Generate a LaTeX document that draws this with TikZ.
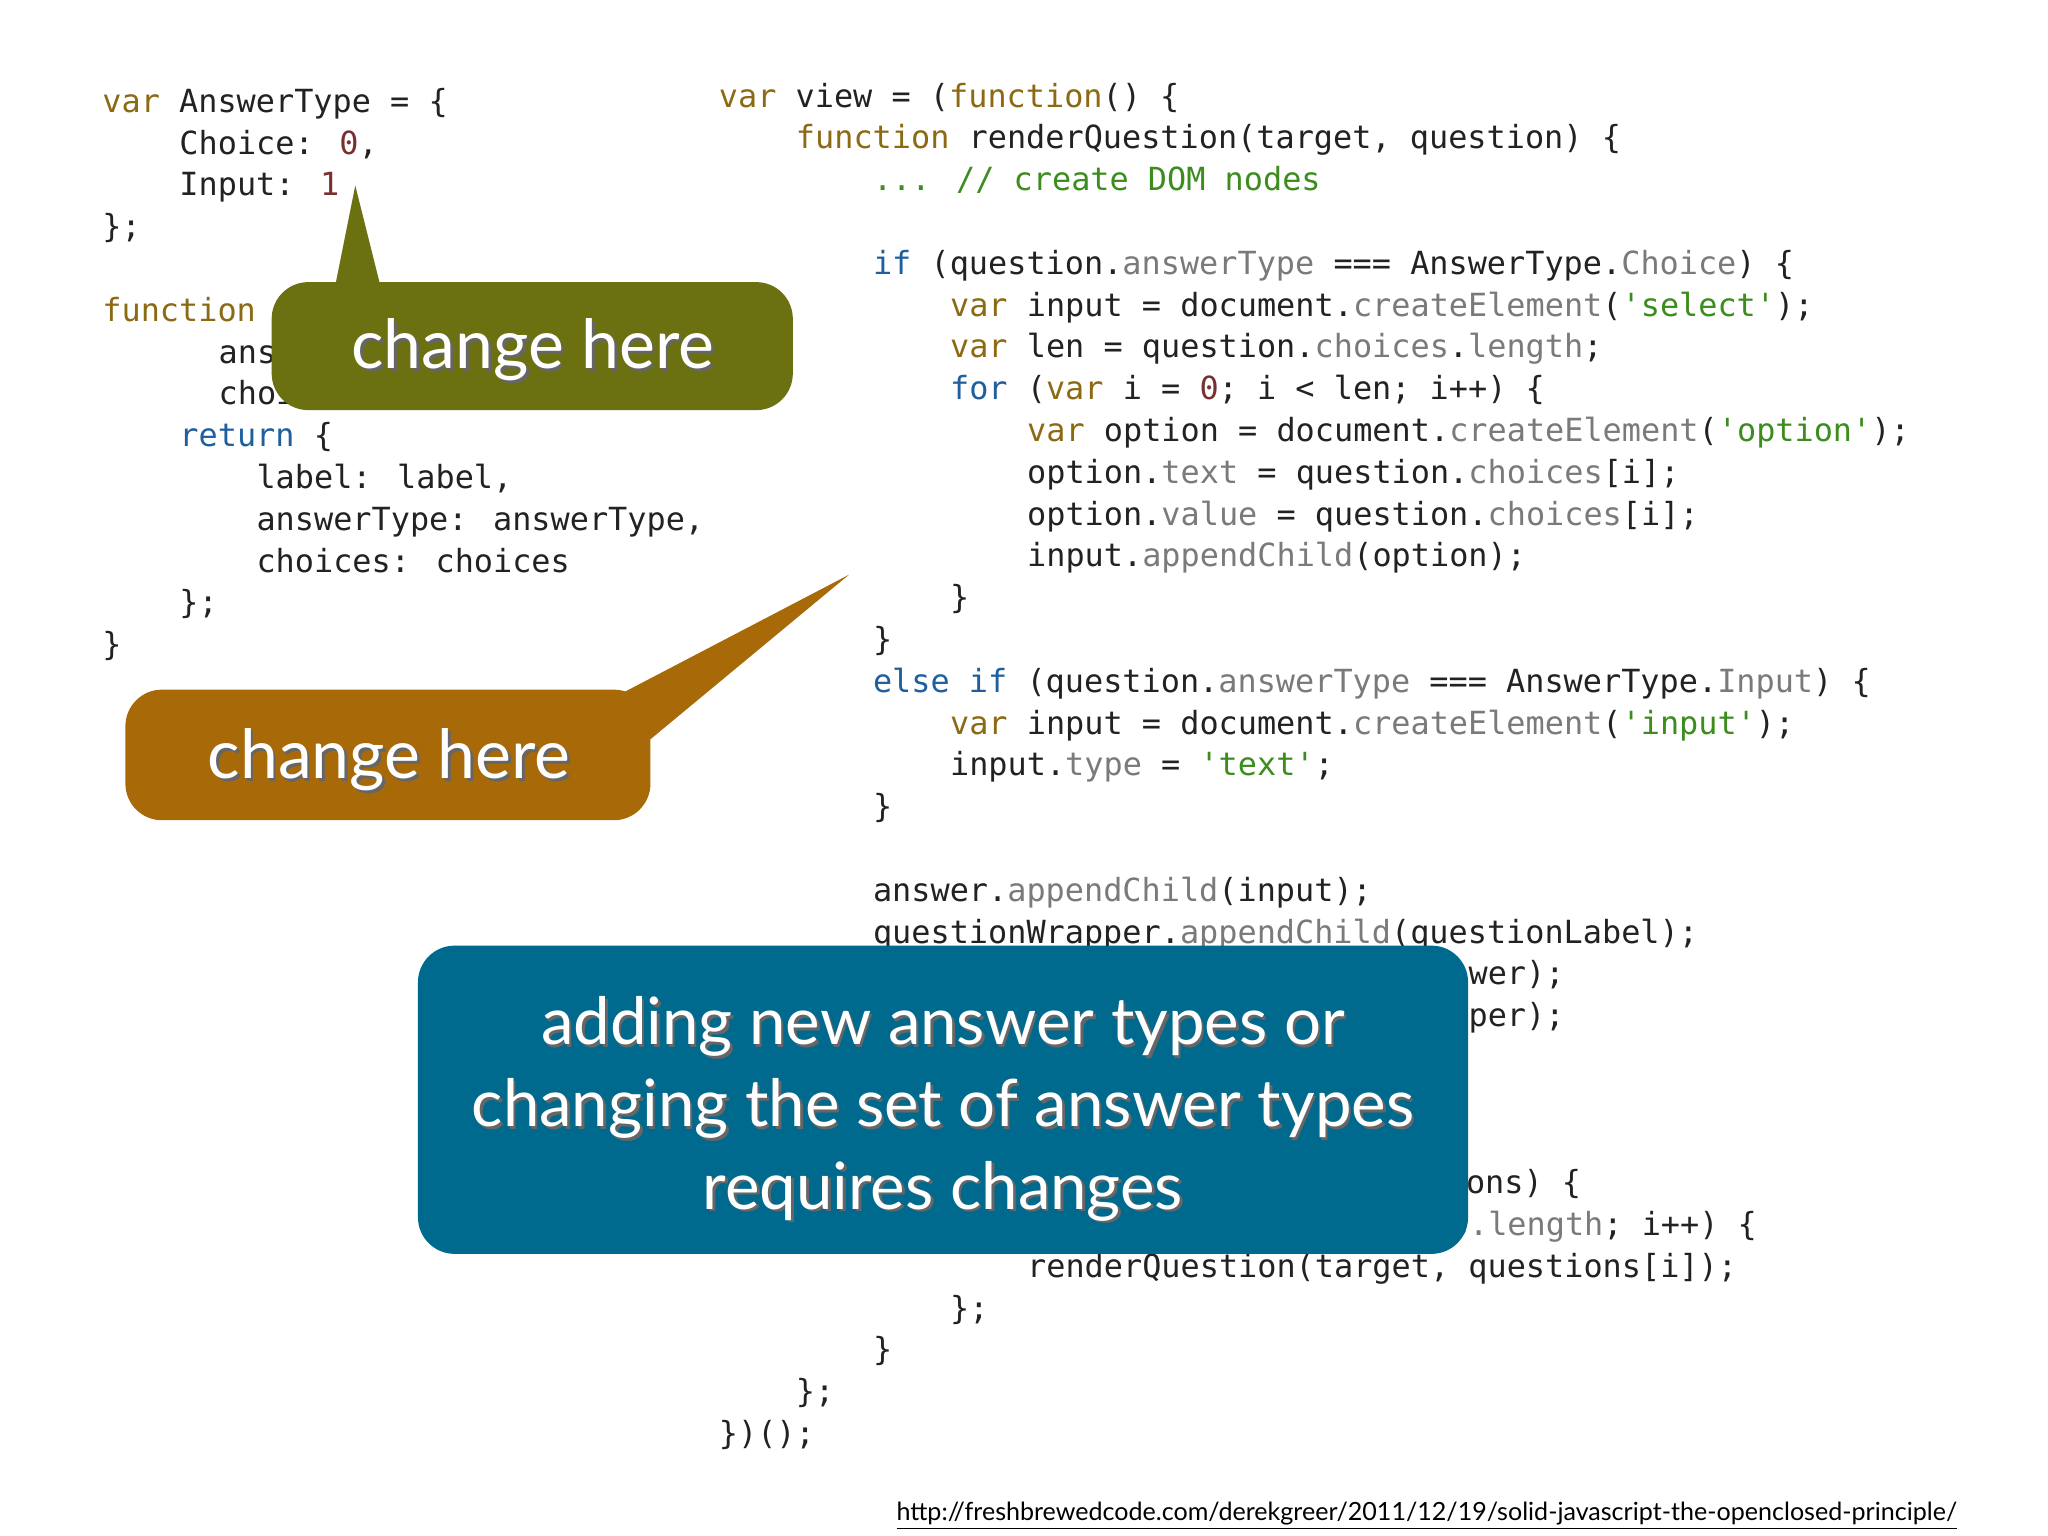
\documentclass[tikz,border=0pt]{standalone}
\usepackage{fontspec}
\usepackage{xcolor}
\newfontfamily\cmono{DejaVu Sans Mono}
\newfontfamily\gsans{Lato}
\definecolor{kwc}{HTML}{8C6A14}
\definecolor{bkc}{HTML}{1F5F9E}
\definecolor{prc}{HTML}{7A7A7A}
\definecolor{stc}{HTML}{3C8C1E}
\definecolor{nmc}{HTML}{7A3030}
\definecolor{txc}{HTML}{222222}
\definecolor{olivec}{HTML}{6B7010}
\definecolor{orangec}{HTML}{A86A08}
\definecolor{bluec}{HTML}{006A8E}
\newcommand{\kw}[1]{\textcolor{kwc}{#1}}
\newcommand{\bk}[1]{\textcolor{bkc}{#1}}
\newcommand{\pr}[1]{\textcolor{prc}{#1}}
\newcommand{\st}[1]{\textcolor{stc}{#1}}
\newcommand{\nm}[1]{\textcolor{nmc}{#1}}
\tikzset{
 code/.style={anchor=base west,inner sep=0,font=\cmono\fontsize{12.2}{16}\selectfont,text=txc},
 callout/.style={rounded corners=14pt},
 ctext/.style={font=\gsans\fontsize{26}{30}\selectfont,text=white,align=center},
 cshadow/.style={font=\gsans\fontsize{26}{30}\selectfont,text=black!60,align=center},
}
\begin{document}
\begin{tikzpicture}[x=0.5pt,y=-0.5pt]
\useasboundingbox (0,0) rectangle (1568,1176);
% left code
\node[code] (a1) at (78,86) {\kw{var} AnswerType = \{};
\node[code] (a2) at (137,118) {Choice: \nm{0},};
\node[code] (a3) at (137,150) {Input: \nm{1}};
\node[code] (a4) at (78,182) {\};};
\node[code] (a5) at (78,246) {\kw{function}};
\node[code] (a6) at (167,278) {ans};
\node[code] (a7) at (167,310) {choices) \{};
\node[code] (a8) at (137,342) {\bk{return} \{};
\node[code] (a9) at (196,374) {label: label,};
\node[code] (a10) at (196,406) {answerType: answerType,};
\node[code] (a11) at (196,438) {choices: choices};
\node[code] (a12) at (137,470) {\};};
\node[code] (a13) at (78,502) {\}};
% right code
\node[code] (b1) at (550,82) {\kw{var} view = (\kw{function}() \{};
\node[code] (b2) at (609,114) {\kw{function} renderQuestion(target, question) \{};
\node[code] (b3) at (668,146) {\st{... // create DOM nodes}};
\node[code] (b4) at (668,210) {\bk{if} (question.\pr{answerType} === AnswerType.\pr{Choice}) \{};
\node[code] (b5) at (727,242) {\kw{var} input = document.\pr{createElement}(\st{'select'});};
\node[code] (b6) at (727,274) {\kw{var} len = question.\pr{choices}.\pr{length};};
\node[code] (b7) at (727,306) {\bk{for} (\kw{var} i = \nm{0}; i < len; i++) \{};
\node[code] (b8) at (786,338) {\kw{var} option = document.\pr{createElement}(\st{'option'});};
\node[code] (b9) at (786,370) {option.\pr{text} = question.\pr{choices}[i];};
\node[code] (b10) at (786,402) {option.\pr{value} = question.\pr{choices}[i];};
\node[code] (b11) at (786,434) {input.\pr{appendChild}(option);};
\node[code] (b12) at (727,466) {\}};
\node[code] (b13) at (668,498) {\}};
\node[code] (b14) at (668,530) {\bk{else if} (question.\pr{answerType} === AnswerType.\pr{Input}) \{};
\node[code] (b15) at (727,562) {\kw{var} input = document.\pr{createElement}(\st{'input'});};
\node[code] (b16) at (727,594) {input.\pr{type} = \st{'text'};};
\node[code] (b17) at (668,626) {\}};
\node[code] (b18) at (668,690) {answer.\pr{appendChild}(input);};
\node[code] (b19) at (668,722) {questionWrapper.\pr{appendChild}(questionLabel);};
\node[code] (b20) at (1124,754) {wer);};
\node[code] (b21) at (1124,786) {per);};
\node[code] (b24) at (1122,914) {ons) \{};
\node[code] (b25) at (1095,946) {\pr{ns.length}; i++) \{};
\node[code] (b26) at (786,978) {renderQuestion(target, questions[i]);};
\node[code] (b27) at (727,1010) {\};};
\node[code] (b28) at (668,1042) {\}};
\node[code] (b29) at (609,1074) {\};};
\node[code] (b30) at (550,1106) {\})();};
% olive callout
\fill[olivec,callout] (208,216) rectangle (607,314);
\fill[olivec] (256,222) -- (272,142) -- (292,222) -- cycle;
\node[cshadow] (c1s) at (410,270) {change here};
\node[ctext] (c1) at (408,268) {change here};
% orange callout
\fill[orangec,callout] (96,528) rectangle (498,628);
\fill[orangec] (470,534) -- (650,440) -- (498,566) -- cycle;
\node[cshadow] (c2s) at (300,584) {change here};
\node[ctext] (c2) at (298,582) {change here};
% blue callout
\fill[bluec,callout] (320,724) rectangle (1124,960);
\node[cshadow,font=\gsans\fontsize{25}{31.5}\selectfont] (c3s) at (724,851) {adding new answer types or\\changing the set of answer types\\requires changes};
\node[ctext,font=\gsans\fontsize{25}{31.5}\selectfont] (c3) at (722,849) {adding new answer types or\\changing the set of answer types\\requires changes};
% url
\node[anchor=base west,inner sep=0,text=black] (url) at (686,1164) {\resizebox{406pt}{!}{\gsans\fontsize{11}{13}\selectfont\underline{http://freshbrewedcode.com/derekgreer/2011/12/19/solid-javascript-the-openclosed-principle/}}};
\end{tikzpicture}
\end{document}
